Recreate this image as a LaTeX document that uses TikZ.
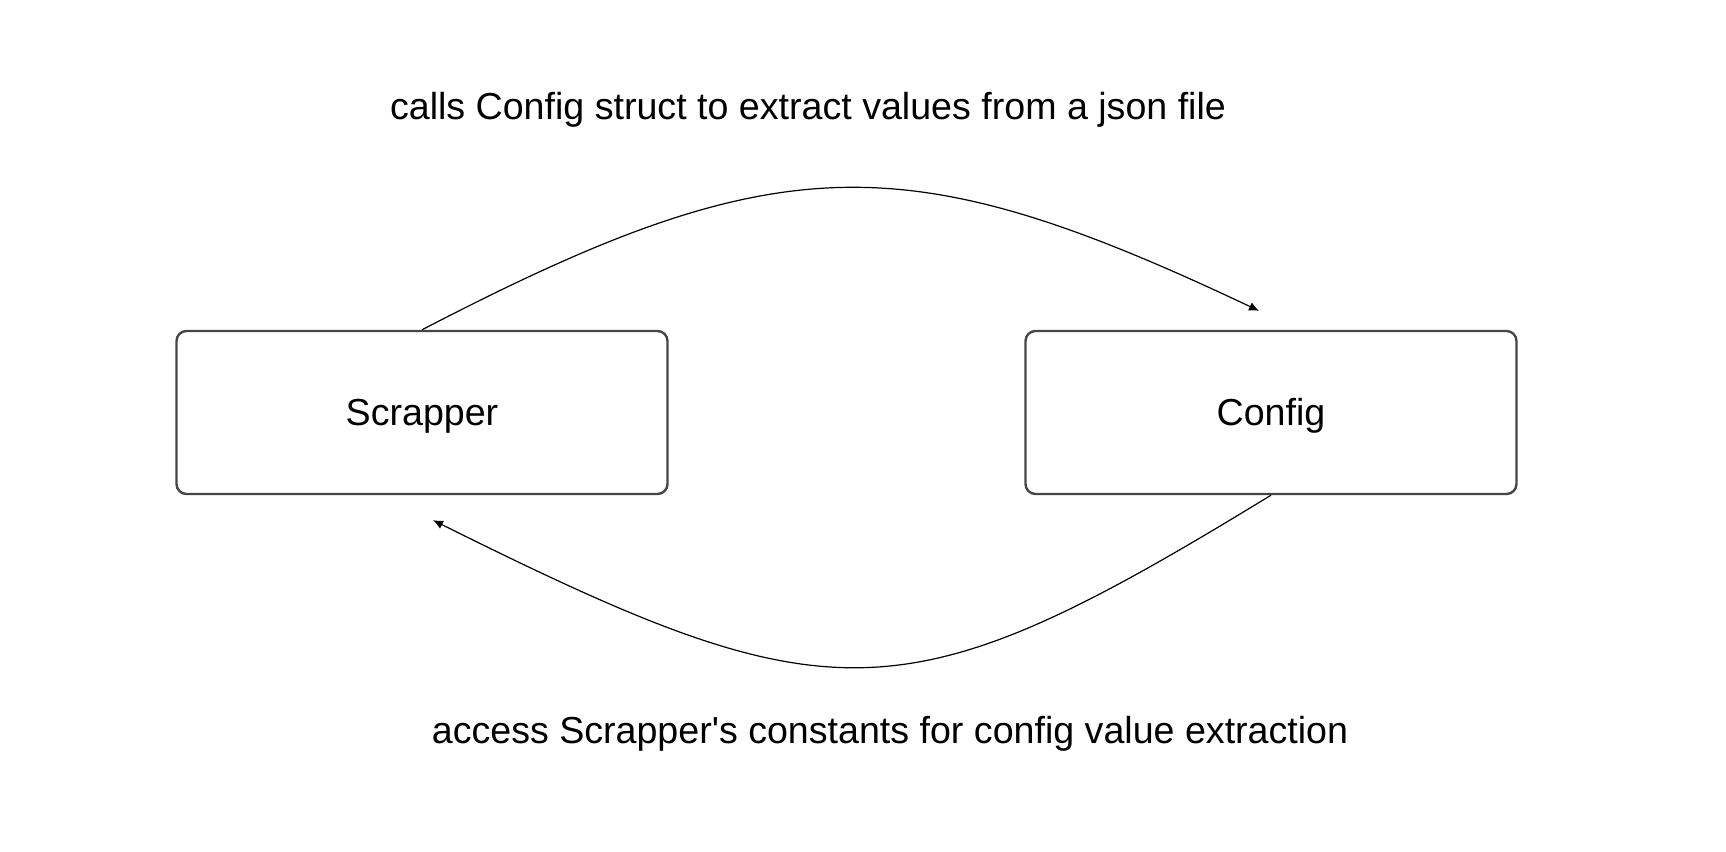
\documentclass[tikz,border=0pt]{standalone}
\usepackage{fontspec}
\setmainfont{Liberation Sans}
\usepackage{xcolor}
\usetikzlibrary{arrows.meta}
\definecolor{boxgray}{RGB}{70,70,70}

\begin{document}
\begin{tikzpicture}[x=0.5pt,y=-0.5pt,
    font=\fontsize{18.8}{22}\selectfont,
    block/.style={draw=boxgray,line width=1.2pt,rounded corners=5pt,minimum width=245.5pt,minimum height=81.5pt,inner sep=0pt},
    flow/.style={black,line width=0.6pt,-{Latex[length=5pt,width=4.5pt]}}]
        \useasboundingbox[fill=white] (0,0) rectangle (1726,852);
        \node[block] (scr) at (422,412.5) {};
        \node[block] (cfg) at (1271,412.5) {};
        \node[anchor=base] (scrtext) at (422,425) {Scrapper};
        \node[anchor=base] (cfgtext) at (1271,425) {Config};
        \node[anchor=base] (calllabel) at (808,119) {calls Config struct to extract values from a json file};
        \node[anchor=base] (accesslabel) at (890,743) {access Scrapper\textquotesingle s constants for config value extraction};
        \draw[flow] (scr.north) .. controls +(358,-186) and +(-353,-167) .. ([shift={(-12,-19)}]cfg.north);
        \draw[flow] (cfg.south) .. controls +(-368,225) and +(402,200) .. ([shift={(11,25)}]scr.south);
      \end{tikzpicture}
\end{document}
